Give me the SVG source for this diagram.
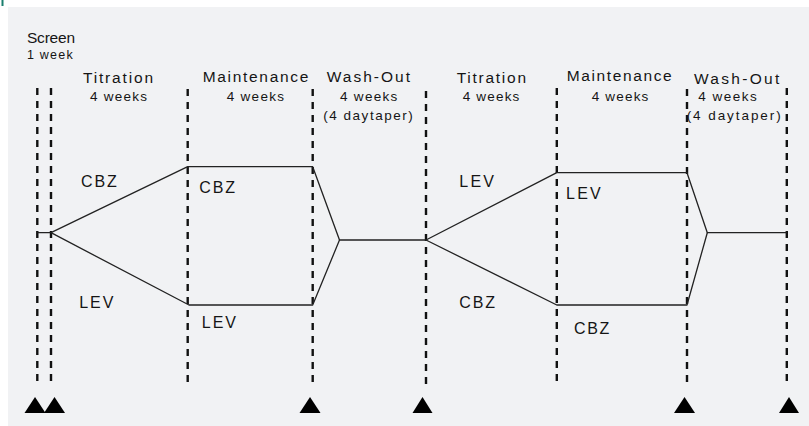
<svg xmlns="http://www.w3.org/2000/svg" width="809" height="426" viewBox="0 0 809 426">
  <style>
    .t { font-family: "Liberation Sans", Arial, sans-serif; fill: #151515; }
    .hd { font-size: 15.5px; }
    .wk { font-size: 13.5px; }
    .sm { font-size: 12.5px; }
    .dr { font-size: 16px; }
    .phase { stroke: #111; stroke-width: 2.4; stroke-dasharray: 7 6; fill: none; }
    .arm { stroke: #222; stroke-width: 1.3; fill: none; stroke-linejoin: round; }
    .tri { fill: #000; }
  </style>
  <rect x="0" y="0" width="809" height="426" fill="#ffffff"/>
  <rect id="panel" x="8" y="7" width="801" height="419" fill="#f1f2f4"/>
  <rect id="corner-mark" x="1.5" y="0" width="2" height="6" fill="#1a7f6e"/>

  <g id="phase-boundaries">
    <line class="phase" x1="37.3" y1="88" x2="37.3" y2="385"/>
    <line class="phase" x1="51" y1="88" x2="51" y2="385"/>
    <line class="phase" x1="187.7" y1="89" x2="187.7" y2="385"/>
    <line class="phase" x1="312.7" y1="89" x2="312.7" y2="385"/>
    <line class="phase" x1="426" y1="91" x2="426" y2="385"/>
    <line class="phase" x1="556.8" y1="88" x2="556.8" y2="385"/>
    <line class="phase" x1="687" y1="89" x2="687" y2="385"/>
    <line class="phase" x1="786.8" y1="88" x2="786.8" y2="385"/>
  </g>

  <g id="connectors">
    <polyline class="arm" points="37.3,232.7 51,232.7 187.7,166.7 312.7,166.7 339.5,240 426,240 556.8,172.7 687,172.7 707.3,232.7 786.8,232.7"/>
    <polyline class="arm" points="51,232.7 189,305 312.7,305 339.5,240"/>
    <polyline class="arm" points="426,240 556.8,305 687,305 707.3,232.7"/>
  </g>

  <g id="header-screen">
    <text class="t hd" x="27" y="42.5" textLength="48" lengthAdjust="spacing">Screen</text>
    <text class="t sm" x="27" y="59" textLength="45.7" lengthAdjust="spacing">1 week</text>
  </g>
  <g id="header-titration-1">
    <text class="t hd" x="83" y="83" textLength="70" lengthAdjust="spacing">Titration</text>
    <text class="t wk" x="90" y="100.7" textLength="57" lengthAdjust="spacing">4 weeks</text>
  </g>
  <g id="header-maintenance-1">
    <text class="t hd" x="202.7" y="81.7" textLength="105.6" lengthAdjust="spacing">Maintenance</text>
    <text class="t wk" x="226.7" y="100.7" textLength="57.3" lengthAdjust="spacing">4 weeks</text>
  </g>
  <g id="header-washout-1">
    <text class="t hd" x="326.7" y="82" textLength="83.3" lengthAdjust="spacing">Wash-Out</text>
    <text class="t wk" x="340" y="100.7" textLength="57.3" lengthAdjust="spacing">4 weeks</text>
    <text class="t wk" x="323.3" y="120" textLength="89.4" lengthAdjust="spacing">(4 daytaper)</text>
  </g>
  <g id="header-titration-2">
    <text class="t hd" x="456.7" y="83.3" textLength="69.3" lengthAdjust="spacing">Titration</text>
    <text class="t wk" x="462.7" y="100.7" textLength="56.6" lengthAdjust="spacing">4 weeks</text>
  </g>
  <g id="header-maintenance-2">
    <text class="t hd" x="566.7" y="80.7" textLength="105" lengthAdjust="spacing">Maintenance</text>
    <text class="t wk" x="591.7" y="100.7" textLength="56.6" lengthAdjust="spacing">4 weeks</text>
  </g>
  <g id="header-washout-2">
    <text class="t hd" x="694" y="84" textLength="85.3" lengthAdjust="spacing">Wash-Out</text>
    <text class="t wk" x="698.3" y="100.7" textLength="58.4" lengthAdjust="spacing">4 weeks</text>
    <text class="t wk" x="686.7" y="120" textLength="94" lengthAdjust="spacing">(4 daytaper)</text>
  </g>

  <g id="arm-labels">
    <text class="t dr" x="81" y="186.5" textLength="35.7" lengthAdjust="spacing">CBZ</text>
    <text class="t dr" x="199.3" y="192.5" textLength="35.7" lengthAdjust="spacing">CBZ</text>
    <text class="t dr" x="79.3" y="308" textLength="34" lengthAdjust="spacing">LEV</text>
    <text class="t dr" x="201.7" y="328" textLength="34.3" lengthAdjust="spacing">LEV</text>
    <text class="t dr" x="459.3" y="186.5" textLength="34.7" lengthAdjust="spacing">LEV</text>
    <text class="t dr" x="566" y="199" textLength="34.7" lengthAdjust="spacing">LEV</text>
    <text class="t dr" x="459.3" y="308" textLength="35.7" lengthAdjust="spacing">CBZ</text>
    <text class="t dr" x="574" y="334" textLength="35.3" lengthAdjust="spacing">CBZ</text>
  </g>

  <g id="visit-markers">
    <polygon class="tri" points="35,397 24.5,413 45.5,413"/>
    <polygon class="tri" points="54.5,397 44,413 65,413"/>
    <polygon class="tri" points="310,397 299.5,413 320.5,413"/>
    <polygon class="tri" points="422.5,397 412.5,413 432.5,413"/>
    <polygon class="tri" points="684.5,397 674,413 695,413"/>
    <polygon class="tri" points="789,397 779,413 799,413"/>
  </g>
</svg>
